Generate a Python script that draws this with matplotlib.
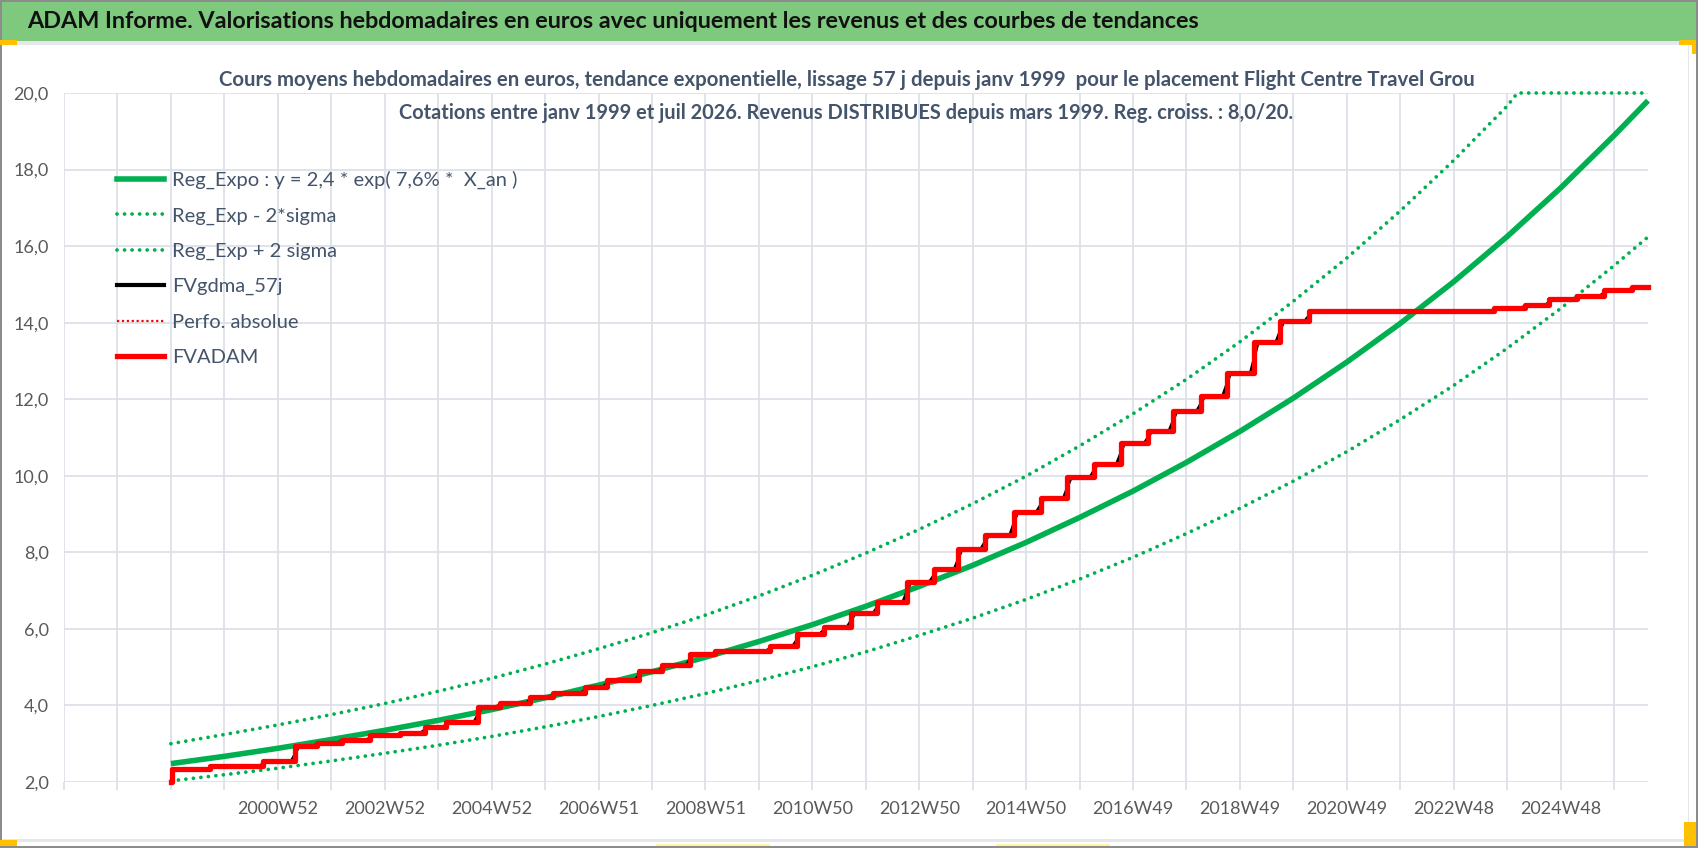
import numpy as np
import matplotlib
matplotlib.use('Agg')
import matplotlib.pyplot as plt
from matplotlib.patches import Rectangle
from matplotlib.lines import Line2D

plt.rcParams['font.family'] = ['Lato', 'DejaVu Sans']

W, H = 1698, 848

# --- donnees (x = index de semaine, 0 = 1996W52) ---
x_labels = ['2000W52', '2002W52', '2004W52', '2006W51', '2008W51', '2010W50', '2012W50',
            '2014W50', '2016W49', '2018W49', '2020W49', '2022W48', '2024W48']

trend_weeks = [104, 156, 208, 260, 312, 364, 416, 468, 520, 572, 624, 676, 728, 780, 832,
               884, 936, 988, 1040, 1092, 1144, 1196, 1248, 1300, 1352, 1404, 1456, 1508, 1541]
reg_expo = [2.48, 2.67, 2.88, 3.11, 3.35, 3.61, 3.89, 4.20, 4.53, 4.88, 5.26, 5.67, 6.11, 6.59,
            7.11, 7.66, 8.26, 8.91, 9.60, 10.35, 11.16, 12.03, 12.97, 13.98, 15.07, 16.25,
            17.52, 18.89, 19.80]
reg_moins = [2.03, 2.19, 2.36, 2.55, 2.75, 2.96, 3.19, 3.44, 3.71, 4.00, 4.31, 4.65, 5.01, 5.40,
             5.83, 6.28, 6.77, 7.30, 7.87, 8.49, 9.15, 9.86, 10.63, 11.47, 12.36, 13.33,
             14.37, 15.49, 16.24]
upper_weeks = [104, 156, 208, 260, 312, 364, 416, 468, 520, 572, 624, 676, 728, 780, 832,
               884, 936, 988, 1040, 1092, 1144, 1196, 1248, 1300, 1352, 1404, 1414, 1456, 1508, 1541]
reg_plus = [3.00, 3.24, 3.49, 3.76, 4.05, 4.37, 4.71, 5.08, 5.48, 5.90, 6.36, 6.86, 7.40, 7.98,
            8.60, 9.27, 9.99, 10.78, 11.62, 12.52, 13.50, 14.56, 15.69, 16.92, 18.24, 19.66,
            20.0, 20.0, 20.0, 20.0]

adam_weeks = [104, 105, 142, 194, 225, 246, 270, 298, 327, 351, 372, 403, 424, 453, 476, 507,
              528, 559, 582, 609, 633, 687, 713, 739, 766, 791, 820, 846, 870, 896, 924, 950,
              976, 1002, 1028, 1055, 1079, 1106, 1131, 1158, 1183, 1211, 1391, 1421, 1445,
              1472, 1498, 1525, 1541]
fvadam = [2.00, 2.33, 2.42, 2.55, 2.94, 3.03, 3.10, 3.23, 3.29, 3.43, 3.58, 3.97, 4.06, 4.23,
          4.33, 4.49, 4.66, 4.90, 5.06, 5.34, 5.43, 5.56, 5.87, 6.06, 6.41, 6.71, 7.23, 7.56,
          8.10, 8.45, 9.06, 9.41, 9.96, 10.32, 10.86, 11.18, 11.70, 12.08, 12.68, 13.50, 14.05,
          14.30, 14.39, 14.46, 14.63, 14.70, 14.85, 14.94, 14.94]

legend_labels = ['Reg_Expo : y = 2,4 * exp( 7,6% *  X_an )', 'Reg_Exp - 2*sigma',
                 'Reg_Exp + 2 sigma', 'FVgdma_57j', 'Perfo. absolue', 'FVADAM']

titre = ('ADAM Informe. Valorisations hebdomadaires en euros avec uniquement les revenus '
         'et des courbes de tendances')
sous_titre1 = ('Cours moyens hebdomadaires en euros, tendance exponentielle, lissage 57 j depuis '
               'janv 1999  pour le placement Flight Centre Travel Grou')
sous_titre2 = 'Cotations entre janv 1999 et juil 2026. Revenus DISTRIBUES depuis mars 1999. Reg. croiss. : 8,0/20.'

VERT = '#00B050'
ROUGE = '#FF0000'
GRILLE = '#DDE1E7'
TXT = '#44546A'

fig = plt.figure(figsize=(W / 100, H / 100), dpi=100)
fig.patch.set_facecolor('white')


def prect(x, y, w, h, color, z=0):
    fig.add_artist(Rectangle((x / W, 1 - (y + h) / H), w / W, h / H, transform=fig.transFigure,
                             facecolor=color, edgecolor='none', zorder=z))


# cadre et bandeau
prect(0, 0, W, 41, '#7FC97F')
prect(0, 0, W, 2, '#8C8C8C', 2)
prect(0, 41, W, 4, '#E4E7EC')
prect(0, 839, W, 3, '#E4E7EC')
prect(0, 40, 17, 5, '#FFC000', 3)
prect(1679, 40, 17, 5, '#FFC000', 3)
prect(1692, 40, 4, 14, '#FFC000', 3)
prect(0, 840, 17, 6, '#FFC000', 3)
prect(1684, 822, 12, 24, '#FFC000', 3)
prect(656, 844, 114, 2, '#FFF59D', 3)
prect(996, 844, 114, 2, '#FFF59D', 3)
prect(1688, 45, 1, 795, '#E4E7EC', 2)
prect(0, 0, 2, H, '#8C8C8C', 2)
prect(W - 2, 0, 2, H, '#8C8C8C', 2)
prect(0, H - 2, W, 2, '#8C8C8C', 2)

# axes
ax = fig.add_axes([64 / W, 1 - 782 / H, (1648 - 64) / W, (782 - 93) / H])
ax.set_facecolor('none')
ax.set_xlim(0, 1541)
ax.set_ylim(2, 20)
for s in ax.spines.values():
    s.set_visible(False)

xt = np.arange(0, 1541, 52)
ax.set_xticks(xt)
lab = [''] * len(xt)
for i, l in enumerate(x_labels):
    lab[4 + 2 * i] = l
ax.set_xticklabels(lab)
yt = np.arange(2, 20.1, 2)
ax.set_yticks(yt)
ax.set_yticklabels([f'{v:.1f}'.replace('.', ',') for v in yt])
ax.grid(True, color=GRILLE, lw=1.3)
ax.set_axisbelow(True)
ax.tick_params(axis='x', direction='out', length=6, width=1.3, color=GRILLE, pad=8,
               labelsize=13, labelcolor='#595959')
ax.tick_params(axis='y', length=0, pad=11, labelsize=13, labelcolor='#595959')

dot = (0, (0.01, 2.0))
ax.plot(trend_weeks, reg_moins, color=VERT, lw=2.7, ls=dot, dash_capstyle='round', clip_on=False, zorder=3)
ax.plot(upper_weeks, reg_plus, color=VERT, lw=2.7, ls=dot, dash_capstyle='round', clip_on=False, zorder=3)
ax.plot(trend_weeks, reg_expo, color=VERT, lw=4.0, solid_capstyle='butt', clip_on=False, zorder=4)

# lissage : rampe autour de chaque saut de FVADAM
bx, by = [adam_weeks[1]], [fvadam[1]]
for w, p, n in zip(adam_weeks[2:-1], fvadam[1:-2], fvadam[2:-1]):
    bx += [w - 4, w + 4]
    by += [p, n]
bx.append(adam_weeks[-1])
by.append(fvadam[-1])
ax.plot(bx, by, color='black', lw=2.0, clip_on=False, zorder=5)
ax.plot(adam_weeks, fvadam, color=ROUGE, lw=3.8, drawstyle='steps-post', clip_on=False, zorder=6)

# textes
r = fig.canvas.get_renderer()


def fit(t, target):
    w = t.get_window_extent(r).width
    t.set_fontsize(t.get_fontsize() * target / w)


t0 = fig.text(27 / W, 1 - 22 / H, titre, fontsize=16, fontweight='bold', color='#111111',
              ha='left', va='center')
fit(t0, 1181)
t1 = fig.text(847 / W, 1 - 86 / H, sous_titre1, fontsize=13, fontweight='bold', color=TXT,
              ha='center', va='baseline')
fit(t1, 1250)
t2 = fig.text(846 / W, 1 - 119 / H, sous_titre2, fontsize=13, fontweight='bold', color=TXT,
              ha='center', va='baseline')
fit(t2, 895)

tmp = fig.text(0, 0, legend_labels[0], fontsize=15)
lfs = 15 * 347 / tmp.get_window_extent(r).width
tmp.remove()
fs_px = lfs * 100 / 72

handles = [
    Line2D([], [], color=VERT, lw=4.0),
    Line2D([], [], color=VERT, lw=2.7, ls=dot, dash_capstyle='round'),
    Line2D([], [], color=VERT, lw=2.7, ls=dot, dash_capstyle='round'),
    Line2D([], [], color='black', lw=3.0),
    Line2D([], [], color=ROUGE, lw=1.6, ls=(0, (1, 1.2))),
    Line2D([], [], color=ROUGE, lw=3.8),
]
row_h = 1.2 * fs_px
leg = ax.legend(handles, legend_labels, loc='upper left',
                bbox_to_anchor=(117 / W, 1 - (183 - row_h / 2) / H), bbox_transform=fig.transFigure,
                frameon=False, borderpad=0, borderaxespad=0, fontsize=lfs,
                handlelength=47 / fs_px, handletextpad=8 / fs_px,
                labelspacing=(42.2 - row_h) / fs_px, labelcolor=TXT)

fig.savefig('out.png', dpi=100)
